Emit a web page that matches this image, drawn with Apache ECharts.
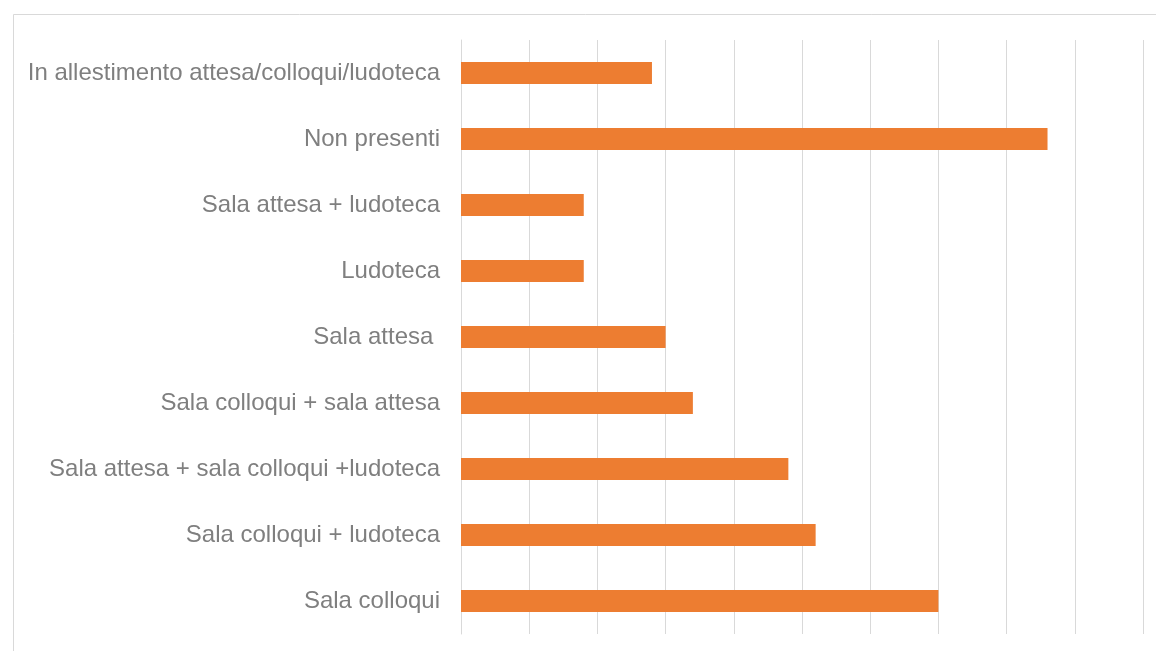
<!DOCTYPE html>
<html>
<head>
<meta charset="utf-8">
<script src="https://cdn.jsdelivr.net/npm/echarts@6/dist/echarts.min.js"></script>
<style>html,body{margin:0;padding:0;background:#fff;}#c{width:1156px;height:651px;}</style>
</head>
<body>
<div id="c"></div>
<script>
const categories = [
  "In allestimento attesa/colloqui/ludoteca",
  "Non presenti",
  "Sala attesa + ludoteca",
  "Ludoteca",
  "Sala attesa ",
  "Sala colloqui + sala attesa",
  "Sala attesa + sala colloqui +ludoteca",
  "Sala colloqui + ludoteca",
  "Sala colloqui"
];
const values = [14, 43, 9, 9, 15, 17, 24, 26, 35];
const axisMax = 50;
const axisStep = 5;

const chart = echarts.init(document.getElementById('c'), null, {renderer: 'canvas'});
chart.setOption({
  animation: false,
  backgroundColor: '#ffffff',
  graphic: [{
    type: 'rect',
    shape: {x: 13.5, y: 14.5, width: 1300, height: 800},
    style: {fill: 'none', stroke: '#d9d9d9', lineWidth: 1},
    silent: true
  }],
  grid: {left: 461, right: 13, top: 40, bottom: 17, containLabel: false},
  xAxis: {
    type: 'value', min: 0, max: axisMax, interval: axisStep,
    axisLabel: {show: false}, axisLine: {show: false}, axisTick: {show: false},
    splitLine: {show: true, lineStyle: {color: '#d9d9d9', width: 1}}
  },
  yAxis: {
    type: 'category', data: categories, inverse: true,
    axisLine: {show: true, lineStyle: {color: '#d9d9d9', width: 1}},
    axisTick: {show: false},
    axisLabel: {margin: 21, fontSize: 24, color: '#7f7f7f', fontFamily: 'Liberation Sans, Arial, sans-serif'}
  },
  series: [{
    type: 'bar', data: values, barWidth: 22,
    itemStyle: {color: '#ED7D31'}
  }]
});
</script>
</body>
</html>
